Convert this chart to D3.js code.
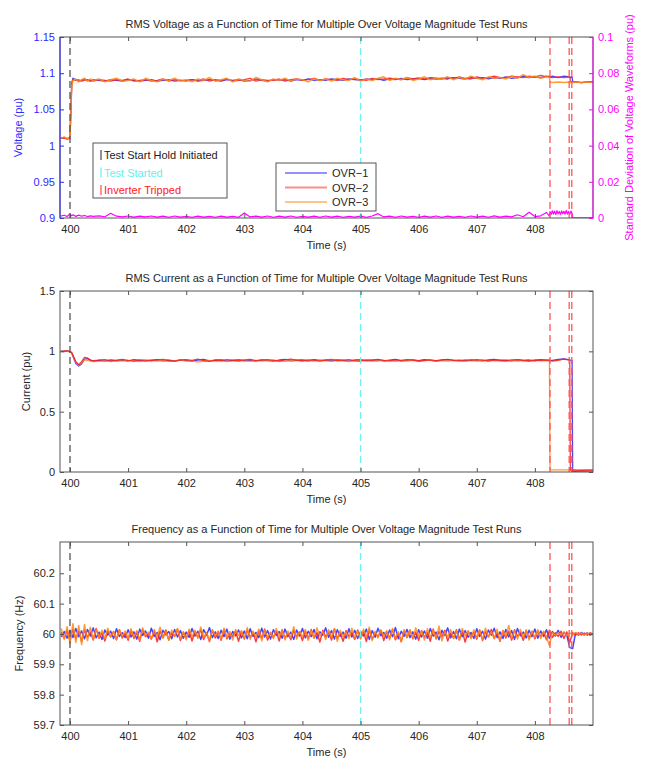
<!DOCTYPE html>
<html>
<head>
<meta charset="utf-8">
<script src="https://cdn.jsdelivr.net/npm/d3@7"></script>
<style>
  body { margin: 0; background: #fff; }
  svg { font-family: "Liberation Sans", Arial, Helvetica, sans-serif; }
</style>
</head>
<body>
<div id="chart"></div>
<script>
// ---- data ----
const runs = ['OVR\u22121', 'OVR\u22122', 'OVR\u22123']
const runColors = ['#2525ff', '#ff1a1a', '#ff8a1a']

const T = [399.84,399.9,399.95,400.0,400.03,400.05,400.1,400.15,400.2,400.25,400.3,400.35,400.4,
  400.5,400.6,400.7,400.8,400.9,401.0,401.1,401.2,401.3,401.4,
  401.5,401.6,401.7,401.8,401.9,402.0,402.1,402.2,402.3,402.4,
  402.5,402.6,402.7,402.8,402.9,403.0,403.1,403.2,403.3,403.4,
  403.5,403.6,403.7,403.8,403.9,404.0,404.1,404.2,404.3,404.4,
  404.5,404.6,404.7,404.8,404.9,405.0,405.1,405.2,405.3,405.4,
  405.5,405.6,405.7,405.8,405.9,406.0,406.1,406.2,406.3,406.4,
  406.5,406.6,406.7,406.8,406.9,407.0,407.1,407.2,407.3,407.4,
  407.5,407.6,407.7,407.8,407.9,408.0,408.1,408.2,
  408.25,408.26,408.3,408.4,408.5,408.6,408.61,408.64,408.65,408.7,408.8,408.9,409.0]

// RMS voltage (pu)
const volt1 = [1.010,1.011,1.009,1.010,1.086,1.093,1.091,1.089,1.090,1.092,1.090,1.089,1.091,
  1.090,1.089,1.091,1.090,1.089,1.091,1.090,1.089,1.090,1.091,
  1.089,1.090,1.091,1.089,1.090,1.090,1.091,1.089,1.090,1.091,
  1.090,1.089,1.091,1.090,1.091,1.089,1.090,1.092,1.090,1.089,
  1.091,1.090,1.091,1.089,1.091,1.090,1.092,1.090,1.091,1.090,
  1.092,1.091,1.090,1.092,1.091,1.090,1.092,1.091,1.092,1.090,
  1.092,1.091,1.093,1.091,1.092,1.093,1.091,1.093,1.092,1.093,
  1.092,1.094,1.093,1.092,1.094,1.093,1.094,1.092,1.094,1.093,
  1.095,1.093,1.094,1.096,1.094,1.095,1.094,1.096,
  1.095,1.094,1.096,1.094,1.096,1.095,1.094,1.095,1.088,1.088,1.087,1.088,1.088]
const volt2 = [1.011,1.010,1.010,1.011,1.084,1.091,1.090,1.091,1.089,1.090,1.091,1.090,1.089,
  1.091,1.090,1.089,1.091,1.090,1.092,1.089,1.090,1.091,1.089,
  1.090,1.092,1.089,1.091,1.090,1.089,1.091,1.090,1.092,1.089,
  1.091,1.090,1.092,1.089,1.090,1.091,1.093,1.089,1.091,1.090,
  1.090,1.092,1.089,1.091,1.092,1.090,1.091,1.093,1.090,1.092,
  1.091,1.090,1.093,1.091,1.092,1.091,1.090,1.093,1.091,1.092,
  1.093,1.092,1.091,1.094,1.092,1.093,1.092,1.094,1.093,1.092,
  1.094,1.093,1.095,1.093,1.092,1.095,1.093,1.094,1.096,1.094,
  1.094,1.096,1.095,1.094,1.096,1.095,1.097,1.095,
  1.096,1.095,1.094,1.095,1.094,1.095,1.089,1.088,1.088,1.088,1.087,1.088,1.088]
const volt3 = [1.010,1.012,1.009,1.011,1.082,1.090,1.092,1.088,1.091,1.093,1.089,1.092,1.090,
  1.092,1.088,1.091,1.093,1.089,1.090,1.092,1.088,1.093,1.090,
  1.088,1.092,1.090,1.093,1.089,1.091,1.088,1.092,1.090,1.094,
  1.089,1.091,1.093,1.088,1.092,1.090,1.089,1.094,1.091,1.088,
  1.092,1.090,1.093,1.089,1.092,1.091,1.088,1.093,1.090,1.092,
  1.089,1.093,1.091,1.090,1.094,1.089,1.092,1.090,1.093,1.095,
  1.090,1.093,1.091,1.094,1.090,1.092,1.095,1.091,1.093,1.092,
  1.095,1.091,1.094,1.092,1.096,1.093,1.091,1.095,1.093,1.094,
  1.092,1.096,1.093,1.098,1.094,1.096,1.093,1.095,
  1.094,1.088,1.087,1.088,1.087,1.088,1.087,1.088,1.087,1.088,1.087,1.088,1.087]

// RMS current (pu)
const curr1 = [1.000,1.004,1.002,0.998,0.985,0.960,0.900,0.878,0.895,0.935,0.940,0.925,0.918,
  0.925,0.918,0.930,0.922,0.928,0.920,0.932,0.924,0.919,0.927,
  0.931,0.922,0.926,0.920,0.929,0.924,0.918,0.928,0.933,0.921,
  0.926,0.930,0.919,0.925,0.932,0.922,0.927,0.920,0.930,0.924,
  0.919,0.928,0.933,0.922,0.926,0.929,0.920,0.931,0.924,0.927,
  0.921,0.930,0.925,0.919,0.928,0.932,0.923,0.926,0.930,0.920,
  0.927,0.933,0.921,0.926,0.929,0.922,0.931,0.925,0.920,0.928,
  0.932,0.923,0.927,0.920,0.930,0.925,0.921,0.929,0.933,0.924,
  0.926,0.921,0.930,0.924,0.928,0.922,0.931,0.925,
  0.927,0.920,0.925,0.933,0.938,0.930,0.928,0.925,0.000,0.005,0.010,0.008,0.010]
const curr2 = [1.002,0.998,1.005,1.000,0.990,0.970,0.915,0.890,0.915,0.950,0.945,0.930,0.922,
  0.928,0.932,0.921,0.926,0.934,0.925,0.919,0.930,0.927,0.922,
  0.929,0.933,0.924,0.918,0.927,0.931,0.925,0.936,0.922,0.917,
  0.928,0.924,0.932,0.926,0.920,0.929,0.934,0.923,0.927,0.931,
  0.925,0.920,0.929,0.935,0.926,0.922,0.930,0.927,0.919,0.928,
  0.933,0.924,0.927,0.931,0.922,0.918,0.929,0.926,0.934,0.925,
  0.921,0.929,0.924,0.932,0.927,0.920,0.926,0.930,0.923,0.928,
  0.934,0.926,0.921,0.929,0.925,0.931,0.927,0.920,0.930,0.926,
  0.923,0.929,0.932,0.925,0.920,0.928,0.926,0.930,
  0.924,0.928,0.918,0.926,0.935,0.928,0.015,0.012,0.018,0.015,0.014,0.016,0.015]
const curr3 = [0.998,1.003,1.000,0.996,0.988,0.965,0.910,0.885,0.905,0.930,0.925,0.918,0.915,
  0.917,0.921,0.914,0.923,0.918,0.925,0.920,0.915,0.922,0.926,
  0.919,0.924,0.916,0.921,0.927,0.918,0.923,0.910,0.920,0.925,
  0.918,0.922,0.915,0.919,0.926,0.921,0.917,0.924,0.919,0.923,
  0.927,0.920,0.916,0.922,0.925,0.919,0.923,0.918,0.926,0.921,
  0.917,0.924,0.920,0.915,0.923,0.927,0.919,0.922,0.918,0.925,
  0.921,0.916,0.924,0.920,0.926,0.918,0.922,0.927,0.919,0.923,
  0.918,0.925,0.921,0.916,0.924,0.920,0.927,0.919,0.923,0.921,
  0.917,0.925,0.920,0.924,0.918,0.926,0.921,0.923,
  0.922,0.018,0.018,0.017,0.018,0.018,0.017,0.018,0.018,0.017,0.018,0.018,0.018]

// frequency (Hz), sampled every 0.05 s
const freqT = [399.85,399.9,399.95,
  400.00,400.05,400.10,400.15,400.20,400.25,400.30,400.35,400.40,400.45,400.50,400.55,400.60,400.65,400.70,400.75,400.80,400.85,400.90,400.95,
  401.00,401.05,401.10,401.15,401.20,401.25,401.30,401.35,401.40,401.45,401.50,401.55,401.60,401.65,401.70,401.75,401.80,401.85,401.90,401.95,
  402.00,402.05,402.10,402.15,402.20,402.25,402.30,402.35,402.40,402.45,402.50,402.55,402.60,402.65,402.70,402.75,402.80,402.85,402.90,402.95,
  403.00,403.05,403.10,403.15,403.20,403.25,403.30,403.35,403.40,403.45,403.50,403.55,403.60,403.65,403.70,403.75,403.80,403.85,403.90,403.95,
  404.00,404.05,404.10,404.15,404.20,404.25,404.30,404.35,404.40,404.45,404.50,404.55,404.60,404.65,404.70,404.75,404.80,404.85,404.90,404.95,
  405.00,405.05,405.10,405.15,405.20,405.25,405.30,405.35,405.40,405.45,405.50,405.55,405.60,405.65,405.70,405.75,405.80,405.85,405.90,405.95,
  406.00,406.05,406.10,406.15,406.20,406.25,406.30,406.35,406.40,406.45,406.50,406.55,406.60,406.65,406.70,406.75,406.80,406.85,406.90,406.95,
  407.00,407.05,407.10,407.15,407.20,407.25,407.30,407.35,407.40,407.45,407.50,407.55,407.60,407.65,407.70,407.75,407.80,407.85,407.90,407.95,
  408.00,408.05,408.10,408.15,408.20,408.25,408.30,408.35,408.40,408.45,408.50,408.55,408.60,408.65,408.70,408.75,408.80,408.85,408.90,408.95,
  409.0]
const freq1 = [59.990,60.008,59.986,
  60.012,59.988,60.018,59.991,60.010,59.984,60.015,59.993,60.020,59.987,60.006,59.982,60.013,59.996,60.009,59.985,60.017,59.992,60.004,59.988,
  60.014,59.990,60.007,59.983,60.016,59.995,60.010,59.986,60.019,59.992,60.005,59.981,60.012,59.997,60.008,59.984,60.015,59.990,60.011,59.986,
  60.006,59.989,60.018,59.993,60.009,59.982,60.014,59.996,60.021,59.988,60.007,59.985,60.012,59.991,60.016,59.983,60.008,59.994,60.013,59.987,
  60.010,59.984,60.017,59.992,60.005,59.988,60.019,59.990,60.011,59.983,60.014,59.995,60.008,59.986,60.016,59.991,60.006,59.982,60.013,59.993,
  60.018,59.987,60.009,59.991,60.015,59.984,60.007,59.996,60.020,59.989,60.011,59.983,60.014,59.992,60.006,59.986,60.017,59.990,60.012,59.985,
  60.008,59.993,60.016,59.982,60.011,59.989,60.019,59.994,60.005,59.986,60.013,59.991,60.021,59.984,60.009,59.992,60.015,59.988,60.007,59.983,
  60.014,59.990,60.010,59.986,60.018,59.993,60.006,59.981,60.012,59.995,60.020,59.987,60.008,59.984,60.016,59.991,60.011,59.989,60.005,59.985,
  60.017,59.992,60.009,59.983,60.013,59.996,60.019,59.988,60.007,59.985,60.015,59.990,60.011,59.982,60.018,59.994,60.006,59.987,60.012,59.991,
  60.016,59.986,60.010,59.992,60.014,59.985,60.008,59.993,60.012,59.989,60.006,59.995,59.955,59.952,60.004,59.996,60.005,59.997,60.004,59.996,
  60.001]
const freq2 = [60.006,59.985,60.012,
  59.978,60.016,59.984,60.010,59.975,60.013,59.989,60.006,59.980,60.018,59.986,60.004,59.977,60.011,59.990,60.008,59.981,60.014,59.987,60.003,
  59.979,60.012,59.985,60.007,59.976,60.015,59.991,60.002,59.983,60.010,59.974,60.009,59.988,60.013,59.980,60.005,59.992,60.016,59.978,60.006,
  59.986,60.011,59.977,60.008,59.990,60.014,59.982,60.003,59.975,60.012,59.987,60.007,59.979,60.015,59.984,60.002,59.991,60.010,59.976,60.009,
  59.983,60.013,59.988,60.006,59.974,60.011,59.985,60.016,59.980,60.004,59.989,60.009,59.977,60.014,59.986,60.003,59.981,60.012,59.990,60.007,
  59.978,60.010,59.984,60.015,59.987,60.005,59.973,60.012,59.989,60.008,59.980,60.017,59.985,60.003,59.976,60.011,59.991,60.006,59.982,60.013,
  59.987,60.009,59.975,60.014,59.983,60.004,59.990,60.012,59.978,60.007,59.986,60.015,59.981,60.002,59.974,60.010,59.988,60.013,59.984,60.006,
  59.979,60.011,59.989,60.005,59.976,60.016,59.984,60.008,59.991,60.012,59.977,60.003,59.986,60.014,59.981,60.009,59.973,60.010,59.988,60.006,
  59.983,60.013,59.978,60.007,59.990,60.015,59.985,60.004,59.976,60.011,59.987,60.009,59.980,60.014,59.992,60.005,59.979,60.012,59.986,60.008,
  59.984,60.010,59.990,60.006,59.981,60.012,59.988,60.004,59.992,60.009,59.985,60.007,59.972,60.004,59.996,60.004,59.997,60.003,59.996,60.004,
  60.000]
const freq3 = [60.018,59.982,60.024,
  59.968,60.034,59.972,60.028,59.965,60.031,59.978,60.022,59.982,60.016,59.988,60.012,59.984,60.019,59.990,60.008,59.981,60.014,59.993,60.010,
  59.985,60.017,59.989,60.011,59.980,60.020,59.994,60.006,59.983,60.015,59.990,60.022,59.986,60.009,59.979,60.013,59.992,60.018,59.984,60.007,
  59.981,60.016,59.991,60.012,59.985,60.023,59.988,60.005,59.978,60.014,59.993,60.010,59.983,60.019,59.987,60.008,59.980,60.015,59.995,60.011,
  59.986,60.021,59.982,60.009,59.990,60.016,59.977,60.012,59.989,60.006,59.984,60.018,59.992,60.013,59.980,60.010,59.987,60.024,59.983,60.007,
  59.991,60.015,59.979,60.011,59.986,60.020,59.993,60.008,59.982,60.014,59.988,60.017,59.976,60.012,59.990,60.006,59.984,60.019,59.987,60.010,
  59.983,60.016,59.990,60.022,59.978,60.009,59.987,60.014,59.993,60.011,59.981,60.018,59.986,60.007,59.975,60.015,59.989,60.012,59.984,60.020,
  59.992,60.010,59.980,60.017,59.988,60.013,59.983,60.026,59.977,60.008,59.990,60.015,59.985,60.011,59.979,60.018,59.993,60.009,59.984,60.014,
  59.987,60.012,59.981,60.019,59.990,60.007,59.984,60.016,59.978,60.011,59.992,60.028,59.986,60.009,59.983,60.015,59.989,60.012,59.980,60.010,
  59.988,60.014,59.985,60.009,59.991,59.962,60.005,59.996,60.004,59.997,60.005,59.995,60.004,59.996,60.005,59.997,60.004,59.996,60.003,59.997,
  60.000]

// standard deviation of the voltage waveforms (pu), own time base
const stdT = [399.84,399.9,399.95,400.0,400.03,400.05,400.1,400.15,400.2,400.25,400.3,400.35,400.4,
  400.5,400.6,400.7,400.8,400.9,401.0,401.1,401.2,401.3,401.4,
  401.5,401.6,401.7,401.8,401.9,402.0,402.1,402.2,402.3,402.4,
  402.5,402.6,402.7,402.8,402.9,403.0,403.1,403.2,403.3,403.4,
  403.5,403.6,403.7,403.8,403.9,404.0,404.1,404.2,404.3,404.4,
  404.5,404.6,404.7,404.8,404.9,405.0,405.1,405.2,405.3,405.4,
  405.5,405.6,405.7,405.8,405.9,406.0,406.1,406.2,406.3,406.4,
  406.5,406.6,406.7,406.8,406.9,407.0,407.1,407.2,407.3,407.4,
  407.5,407.6,407.7,407.8,407.9,408.0,408.1,408.2,408.25,
  408.26,408.28,408.30,408.32,408.34,408.36,408.38,408.40,408.42,408.44,
  408.46,408.48,408.50,408.52,408.54,408.56,408.58,408.60,408.62,408.64,
  408.65,408.8,409.0]
const stdV = [0.0010,0.0015,0.0008,0.0022,0.0012,0.0018,0.0009,0.0016,0.0010,0.0014,0.0008,0.0012,0.0009,
  0.0012,0.0007,0.0026,0.0010,0.0006,0.0011,0.0005,0.0010,0.0006,0.0011,
  0.0005,0.0010,0.0004,0.0011,0.0005,0.0009,0.0004,0.0010,0.0005,0.0009,
  0.0004,0.0010,0.0005,0.0009,0.0004,0.0028,0.0006,0.0010,0.0005,0.0011,
  0.0004,0.0010,0.0005,0.0011,0.0004,0.0009,0.0005,0.0010,0.0004,0.0011,
  0.0005,0.0010,0.0004,0.0009,0.0005,0.0010,0.0004,0.0011,0.0024,0.0006,
  0.0010,0.0004,0.0011,0.0005,0.0009,0.0004,0.0010,0.0005,0.0011,0.0004,
  0.0010,0.0005,0.0009,0.0004,0.0011,0.0005,0.0010,0.0004,0.0012,0.0005,
  0.0010,0.0006,0.0018,0.0007,0.0032,0.0008,0.0012,0.0030,0.0010,
  0.0035,0.0020,0.0040,0.0022,0.0038,0.0019,0.0041,0.0023,0.0036,0.0020,
  0.0039,0.0024,0.0037,0.0021,0.0042,0.0022,0.0036,0.0020,0.0038,0.0025,
  0.0002,0.0001,0.0001]

// event markers (s)
const holdTimes = [400.0]
const startTimes = [405.0]
const tripTimes = [408.26, 408.59, 408.635]
const eventLabels = ['Test Start Hold Initiated', 'Test Started', 'Inverter Tripped']
const eventColors = ['#555555', '#70f0f0', '#ff5555']
const eventTextColors = ['#222222', '#5ff0f0', '#ff2020']

const xTicks = [400, 401, 402, 403, 404, 405, 406, 407, 408]
const voltTicks = [0.9, 0.95, 1, 1.05, 1.1, 1.15]
const stdTicks = [0, 0.02, 0.04, 0.06, 0.08, 0.1]
const currTicks = [0, 0.5, 1, 1.5]
const freqTicks = [59.7, 59.8, 59.9, 60, 60.1, 60.2]

// ---- layout ----
const width = 647, height = 760
const left = 60, right = 593
const blue = '#2b2bff', magenta = '#ff00ff', ink = '#262626', frame = '#555'
const fmt = d3.format('~g')

const svg = d3.select('#chart').append('svg')
  .attr('width', width).attr('height', height)

const x = d3.scaleLinear().domain([399.828, 409]).range([left, right])

function styleAxis(a, color, textColor) {
  a.select('.domain').remove()
  a.selectAll('line').attr('stroke', color)
  a.selectAll('text').attr('fill', textColor).attr('font-size', 11).attr('font-family', null)
}

function panel(opts) {
  const { id, top, bottom, y, yTickVals, title, yLabel, yLabelX, series, leftColor } = opts
  const g = svg.append('g')

  svg.append('clipPath').attr('id', 'clip' + id)
    .append('rect').attr('x', left).attr('y', top).attr('width', right - left).attr('height', bottom - top)

  // title + labels
  g.append('text').attr('x', (left + right) / 2).attr('y', top - 9)
    .attr('text-anchor', 'middle').attr('font-size', 11).attr('fill', ink).text(title)
  g.append('text').attr('x', (left + right) / 2).attr('y', bottom + 31)
    .attr('text-anchor', 'middle').attr('font-size', 11).attr('fill', ink).text('Time (s)')
  g.append('text').attr('transform', `translate(${yLabelX},${(top + bottom) / 2}) rotate(-90)`)
    .attr('text-anchor', 'middle').attr('font-size', 11).attr('fill', leftColor || ink).text(yLabel)

  // data lines
  const plot = g.append('g').attr('clip-path', `url(#clip${id})`)
  series.forEach(s => {
    const sy = s.y || y
    const line = d3.line().x((d, j) => x(s.t[j])).y(d => sy(d))
    plot.append('path').datum(s.v)
      .attr('fill', 'none').attr('stroke', s.color).attr('stroke-width', s.w || 1.3)
      .attr('stroke-opacity', s.op || 0.85).attr('stroke-linejoin', 'round').attr('d', line)
  })

  // event lines
  const ev = [[holdTimes, eventColors[0]], [startTimes, eventColors[1]], [tripTimes, eventColors[2]]]
  ev.forEach(([times, c]) => {
    plot.selectAll(null).data(times).join('line')
      .attr('x1', d => x(d)).attr('x2', d => x(d))
      .attr('y1', top).attr('y2', bottom)
      .attr('stroke', c).attr('stroke-width', 1.3).attr('stroke-dasharray', '7,4')
  })

  // axes (ticks inward)
  const xb = g.append('g').attr('transform', `translate(0,${bottom})`)
    .call(d3.axisBottom(x).tickValues(xTicks).tickSize(-4).tickPadding(7).tickFormat(fmt))
  const xt = g.append('g').attr('transform', `translate(0,${top})`)
    .call(d3.axisTop(x).tickValues(xTicks).tickSize(-4).tickFormat(''))
  const yl = g.append('g').attr('transform', `translate(${left},0)`)
    .call(d3.axisLeft(y).tickValues(yTickVals).tickSize(-4).tickPadding(5).tickFormat(fmt))
  styleAxis(xb, frame, ink)
  styleAxis(xt, frame, ink)
  styleAxis(yl, leftColor || frame, leftColor || ink)

  if (!opts.rightAxis) {
    const yr = g.append('g').attr('transform', `translate(${right},0)`)
      .call(d3.axisRight(y).tickValues(yTickVals).tickSize(-4).tickFormat(''))
    styleAxis(yr, frame, ink)
  }

  // frame
  g.append('rect').attr('x', left).attr('y', top).attr('width', right - left).attr('height', bottom - top)
    .attr('fill', 'none').attr('stroke', frame).attr('stroke-width', 1)
  if (leftColor) {
    g.append('line').attr('x1', left).attr('x2', left).attr('y1', top).attr('y2', bottom)
      .attr('stroke', leftColor).attr('stroke-width', 1)
  }
  return g
}

// ---- panel 1: voltage + std dev ----
const top1 = 37, bot1 = 218
const yV = d3.scaleLinear().domain([0.9, 1.15]).range([bot1, top1])
const yStd = d3.scaleLinear().domain([0, 0.1]).range([bot1, top1])
const g1 = panel({
  id: 1, top: top1, bottom: bot1, y: yV, yTickVals: voltTicks,
  title: 'RMS Voltage as a Function of Time for Multiple Over Voltage Magnitude Test Runs',
  yLabel: 'Voltage (pu)', yLabelX: 22, leftColor: blue, rightAxis: true,
  series: [
    { t: stdT, v: stdV, y: yStd, color: magenta, w: 1.2, op: 1 },
    { t: T, v: volt1, color: runColors[0] },
    { t: T, v: volt2, color: runColors[1] },
    { t: T, v: volt3, color: runColors[2], w: 1.5 }
  ]
})
const yr1 = g1.append('g').attr('transform', `translate(${right},0)`)
  .call(d3.axisRight(yStd).tickValues(stdTicks).tickSize(-4).tickPadding(5).tickFormat(fmt))
styleAxis(yr1, magenta, magenta)
g1.append('line').attr('x1', right).attr('x2', right).attr('y1', top1).attr('y2', bot1)
  .attr('stroke', magenta).attr('stroke-width', 1)
g1.append('text').attr('transform', `translate(633,${(top1 + bot1) / 2}) rotate(-90)`)
  .attr('text-anchor', 'middle').attr('font-size', 11).attr('fill', magenta)
  .text('Standard Deviation of Voltage Waveforms (pu)')

// event legend
const evBox = g1.append('g').attr('transform', 'translate(93,143)')
evBox.append('rect').attr('width', 134).attr('height', 55).attr('fill', '#fff').attr('stroke', frame)
const evRow = evBox.selectAll('g.ev').data(eventLabels).join('g').attr('class', 'ev')
  .attr('transform', (d, i) => `translate(0,${12 + i * 17.5})`)
evRow.append('line').attr('x1', 8).attr('x2', 8).attr('y1', -5).attr('y2', 5)
  .attr('stroke', (d, i) => eventColors[i]).attr('stroke-width', 1.3)
evRow.append('text').attr('x', 11).attr('y', 4).attr('font-size', 11)
  .attr('fill', (d, i) => eventTextColors[i]).text(d => d)

// run legend
const runBox = g1.append('g').attr('transform', 'translate(276,163)')
runBox.append('rect').attr('width', 100).attr('height', 48).attr('fill', '#fff').attr('stroke', frame)
const runRow = runBox.selectAll('g.run').data(runs).join('g').attr('class', 'run')
  .attr('transform', (d, i) => `translate(0,${10 + i * 14.5})`)
runRow.append('line').attr('x1', 9).attr('x2', 51).attr('y1', 0).attr('y2', 0)
  .attr('stroke', (d, i) => runColors[i]).attr('stroke-opacity', 0.5).attr('stroke-width', 2)
runRow.append('text').attr('x', 56).attr('y', 4).attr('font-size', 11).attr('fill', ink).text(d => d)

// ---- panel 2: current ----
const top2 = 291, bot2 = 472
const yI = d3.scaleLinear().domain([0, 1.5]).range([bot2, top2])
panel({
  id: 2, top: top2, bottom: bot2, y: yI, yTickVals: currTicks,
  title: 'RMS Current as a Function of Time for Multiple Over Voltage Magnitude Test Runs',
  yLabel: 'Current (pu)', yLabelX: 30,
  series: [
    { t: T, v: curr1, color: runColors[0] },
    { t: T, v: curr3, color: runColors[2] },
    { t: T, v: curr2, color: runColors[1] }
  ]
})

// ---- panel 3: frequency ----
const top3 = 542, bot3 = 725
const yF = d3.scaleLinear().domain([59.7, 60.303]).range([bot3, top3])
panel({
  id: 3, top: top3, bottom: bot3, y: yF, yTickVals: freqTicks,
  title: 'Frequency as a Function of Time for Multiple Over Voltage Magnitude Test Runs',
  yLabel: 'Frequency (Hz)', yLabelX: 23,
  series: [
    { t: freqT, v: freq1, color: runColors[0], w: 1.5 },
    { t: freqT, v: freq2, color: runColors[1], w: 1.5 },
    { t: freqT, v: freq3, color: runColors[2], w: 1.5 }
  ]
})
</script>
</body>
</html>
